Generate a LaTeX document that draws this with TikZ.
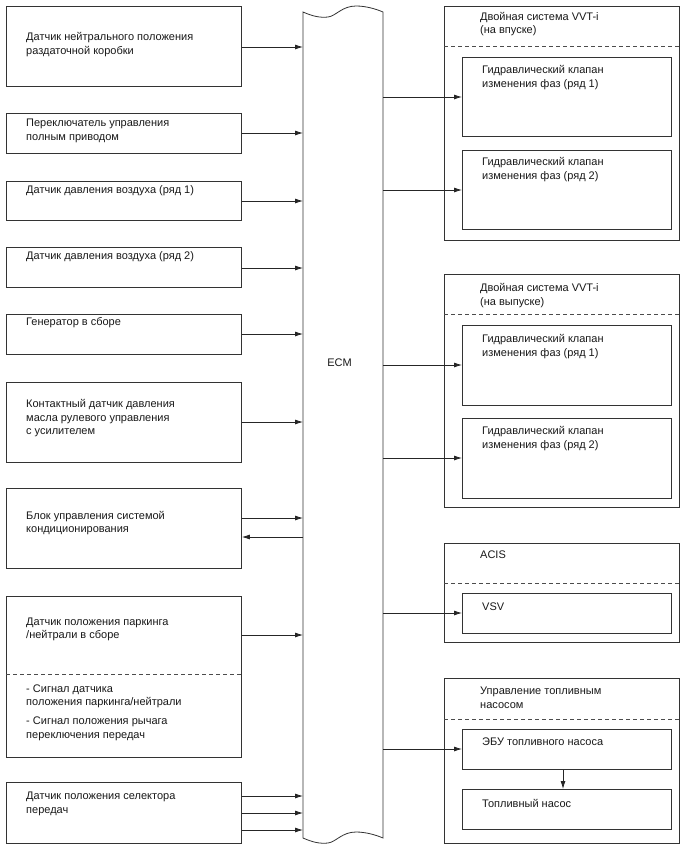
\documentclass[tikz,border=0pt]{standalone}
\usepackage{fontspec}
\setmainfont{Liberation Sans}
\usetikzlibrary{arrows.meta}
\tikzset{
  box/.style={draw=black!80, line width=0.8pt, inner sep=0pt, anchor=north west},
  lbl/.style={anchor=west, align=left, inner sep=0pt, font=\fontsize{11}{13.5}\selectfont, text=black!90},
  arr/.style={-{Latex[length=8pt,width=5pt]}, line width=0.8pt, draw=black!85},
  ln/.style={line width=0.8pt, draw=black!80},
  dsh/.style={line width=0.7pt, draw=black!70, dash pattern=on 4pt off 3pt},
}
\begin{document}
\begin{tikzpicture}[x=1pt,y=-1pt]
\useasboundingbox (0,0) rectangle (688,852);
\fill[white] (0,0) rectangle (688,852);

% ECM
\node[inner sep=0pt, minimum width=80, minimum height=826, anchor=north west] (ecm) at (303,12) {};
\draw[ln] (303,12) .. controls (312,16) and (320,18) .. (328,17)
  .. controls (336,16) and (342,6) .. (356,6)
  .. controls (366,6) and (376,9) .. (383,12)
  -- (383,838)
  .. controls (376,835) and (366,832) .. (356,832)
  .. controls (342,832) and (336,842) .. (328,843)
  .. controls (320,844) and (312,842) .. (303,838) -- cycle;
\node[lbl, anchor=center] (ecmlbl) at (339.5,362.5) {ECM};

% Left boxes
\node[box, minimum width=235, minimum height=80] (b1) at (6,6) {};
\node[lbl] (t1) at (26,44.5) {Датчик нейтрального положения\\раздаточной коробки};
\node[box, minimum width=235, minimum height=40] (b2) at (6,113) {};
\node[lbl] (t2) at (26,131) {Переключатель управления\\полным приводом};
\node[box, minimum width=235, minimum height=39] (b3) at (6,181) {};
\node[lbl] (t3) at (26,191) {Датчик давления воздуха (ряд 1)};
\node[box, minimum width=235, minimum height=40] (b4) at (6,247) {};
\node[lbl] (t4) at (26,257) {Датчик давления воздуха (ряд 2)};
\node[box, minimum width=235, minimum height=40] (b5) at (6,314) {};
\node[lbl] (t5) at (26,323) {Генератор в сборе};
\node[box, minimum width=235, minimum height=80] (b6) at (6,382) {};
\node[lbl] (t6) at (26,418.5) {Контактный датчик давления\\масла рулевого управления\\с усилителем};
\node[box, minimum width=235, minimum height=80] (b7) at (6,488) {};
\node[lbl] (t7) at (26,523) {Блок управления системой\\кондиционирования};
\node[box, minimum width=235, minimum height=161] (b8) at (6,596) {};
\draw[dsh] (b8.west |- 0,674) -- (b8.east |- 0,674);
\node[lbl] (t8a) at (26,629.5) {Датчик положения паркинга\\/нейтрали в сборе};
\node[lbl] (t8b) at (26,696.5) {- Сигнал датчика\\положения паркинга/нейтрали};
\node[lbl] (t8c) at (26,729) {- Сигнал положения рычага\\переключения передач};
\node[box, minimum width=235, minimum height=61] (b9) at (6,782) {};
\node[lbl] (t9) at (26,804) {Датчик положения селектора\\передач};

% Left arrows
\draw[arr] (b1.east |- 0,47) -- (ecm.west |- 0,47);
\draw[arr] (b2.east |- 0,133) -- (ecm.west |- 0,133);
\draw[arr] (b3.east |- 0,201) -- (ecm.west |- 0,201);
\draw[arr] (b4.east |- 0,268) -- (ecm.west |- 0,268);
\draw[arr] (b5.east |- 0,334) -- (ecm.west |- 0,334);
\draw[arr] (b6.east |- 0,422) -- (ecm.west |- 0,422);
\draw[arr] (b7.east |- 0,518) -- (ecm.west |- 0,518);
\draw[arr] (ecm.west |- 0,537) -- (b7.east |- 0,537);
\draw[arr] (b8.east |- 0,635) -- (ecm.west |- 0,635);
\draw[arr] (b9.east |- 0,796) -- (ecm.west |- 0,796);
\draw[arr] (b9.east |- 0,813) -- (ecm.west |- 0,813);
\draw[arr] (b9.east |- 0,830) -- (ecm.west |- 0,830);

% Group 1: VVT-i intake
\node[box, minimum width=235, minimum height=234] (g1) at (444,6) {};
\draw[dsh] (g1.west |- 0,46) -- (g1.east |- 0,46);
\node[lbl] (g1t) at (480,24) {Двойная система VVT-i\\(на впуске)};
\node[box, minimum width=209, minimum height=79] (g1a) at (462,57) {};
\node[lbl] (g1at) at (482,77.5) {Гидравлический клапан\\изменения фаз (ряд 1)};
\node[box, minimum width=209, minimum height=79] (g1b) at (462,150) {};
\node[lbl] (g1bt) at (482,169.5) {Гидравлический клапан\\изменения фаз (ряд 2)};
\draw[arr] (ecm.east |- 0,97) -- (g1a.west |- 0,97);
\draw[arr] (ecm.east |- 0,190) -- (g1b.west |- 0,190);

% Group 2: VVT-i exhaust
\node[box, minimum width=235, minimum height=233] (g2) at (444,274) {};
\draw[dsh] (g2.west |- 0,314) -- (g2.east |- 0,314);
\node[lbl] (g2t) at (480,295.5) {Двойная система VVT-i\\(на выпуске)};
\node[box, minimum width=209, minimum height=80] (g2a) at (462,325) {};
\node[lbl] (g2at) at (482,346.5) {Гидравлический клапан\\изменения фаз (ряд 1)};
\node[box, minimum width=209, minimum height=80] (g2b) at (462,418) {};
\node[lbl] (g2bt) at (482,438.5) {Гидравлический клапан\\изменения фаз (ряд 2)};
\draw[arr] (ecm.east |- 0,365) -- (g2a.west |- 0,365);
\draw[arr] (ecm.east |- 0,458) -- (g2b.west |- 0,458);

% Group 3: ACIS
\node[box, minimum width=235, minimum height=99] (g3) at (444,543) {};
\draw[dsh] (g3.west |- 0,583) -- (g3.east |- 0,583);
\node[lbl] (g3t) at (480,555) {ACIS};
\node[box, minimum width=209, minimum height=40] (g3a) at (462,593) {};
\node[lbl] (g3at) at (482,607) {VSV};
\draw[arr] (ecm.east |- 0,613) -- (g3a.west |- 0,613);

% Group 4: fuel pump
\node[box, minimum width=235, minimum height=165] (g4) at (444,678) {};
\draw[dsh] (g4.west |- 0,719) -- (g4.east |- 0,719);
\node[lbl] (g4t) at (480,698) {Управление топливным\\насосом};
\node[box, minimum width=209, minimum height=40] (g4a) at (462,729) {};
\node[lbl] (g4at) at (482,742) {ЭБУ топливного насоса};
\node[box, minimum width=209, minimum height=40] (g4b) at (462,789) {};
\node[lbl] (g4bt) at (482,803) {Топливный насос};
\draw[arr] (ecm.east |- 0,749) -- (g4a.west |- 0,749);
\draw[arr] (g4a.south -| 563,0) -- (g4b.north -| 563,0);
\end{tikzpicture}
\end{document}
